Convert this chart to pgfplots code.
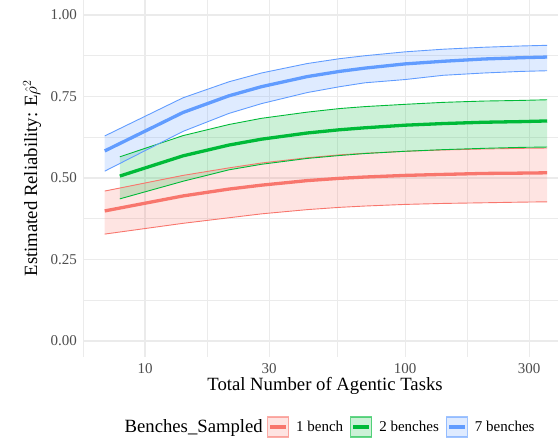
\documentclass[border=0pt]{standalone}
\usepackage{fontspec}
\setmainfont{Liberation Serif}
\usepackage{pgfplots}
\usepackage{pgfplotstable}
\pgfplotsset{compat=1.18}
\usepgfplotslibrary{fillbetween}
\definecolor{cR}{HTML}{F8766D}
\definecolor{cG}{HTML}{00BA38}
\definecolor{cB}{HTML}{619CFF}
\definecolor{gridc}{HTML}{EBEBEB}
\definecolor{tickc}{HTML}{4D4D4D}
\pgfplotstableread{
x lo mid hi
7 0.328 0.399 0.460
14 0.361 0.445 0.508
21 0.378 0.466 0.531
28 0.390 0.478 0.546
42 0.403 0.492 0.562
56 0.410 0.499 0.571
70 0.414 0.503 0.576
100 0.419 0.508 0.582
140 0.422 0.511 0.586
200 0.424 0.514 0.589
280 0.426 0.515 0.591
352 0.427 0.516 0.592
}\redT
\pgfplotstableread{
x lo mid hi
8 0.436 0.506 0.565
14 0.490 0.568 0.630
21 0.525 0.601 0.664
28 0.542 0.619 0.683
42 0.560 0.638 0.702
56 0.569 0.648 0.713
70 0.575 0.654 0.719
100 0.582 0.662 0.726
140 0.587 0.667 0.732
200 0.591 0.671 0.736
280 0.594 0.673 0.738
352 0.595 0.675 0.740
}\greenT
\pgfplotstableread{
x lo mid hi
7 0.521 0.583 0.629
14 0.643 0.701 0.746
21 0.698 0.752 0.795
28 0.728 0.780 0.822
42 0.762 0.811 0.851
56 0.780 0.827 0.866
70 0.792 0.837 0.875
100 0.802 0.850 0.887
140 0.815 0.858 0.895
200 0.822 0.865 0.901
280 0.827 0.869 0.905
352 0.829 0.871 0.907
}\blueT
\newcommand{\keyimg}[1]{\addlegendimage{legend image code/.code={
  \draw[draw=#1, draw opacity=0.6, fill=#1, fill opacity=0.2, line width=1.1bp] (0bp,-10bp) rectangle (21bp,10bp);
  \draw[#1, line width=3.3bp] (2.5bp,0bp) -- (18.5bp,0bp);}}}
\begin{document}
\begin{tikzpicture}
\begin{axis}[
  name=main,
  at={(83bp,86bp)}, anchor=south west,
  scale only axis, width=475bp, height=357bp,
  clip mode=individual,
  xmode=log, xmin=5.775, xmax=387.3, ymin=-0.049, ymax=1.046,
  xtick={10,30,100,300}, xticklabels={10,30,100,300},
  minor xtick={5.7735,17.32,54.77,173.2},
  ytick={0,0.25,0.5,0.75,1}, yticklabels={0.00,0.25,0.50,0.75,1.00},
  minor ytick={0.125,0.375,0.625,0.875},
  grid=both,
  major grid style={draw=gridc, line width=1.1bp},
  minor grid style={draw=gridc, line width=0.6bp},
  axis line style={draw=none},
  major tick length=0pt, minor tick length=0pt,
  tick style={draw=none},
  ticklabel style={font=\fontsize{15bp}{18bp}\selectfont, text=tickc, inner sep=0pt},
  xticklabel style={anchor=north, yshift=-6bp},
  yticklabel style={anchor=east, xshift=-6bp},
  xlabel={Total Number of Agentic Tasks},
  ylabel={Estimated Reliability: E$\hat{\rho}^{2}$},
  label style={font=\fontsize{18.7bp}{22bp}\selectfont, inner sep=0pt},
  xlabel style={at={(axis description cs:0.5095,-0.0938)}, anchor=base},
  ylabel style={at={(axis description cs:-0.0968,0.501)}, anchor=base, rotate=0},
  legend style={at={(axis description cs:0.3874,-0.1961)}, anchor=west,
    draw=none, fill=none, inner sep=0pt, outer sep=0pt,
    nodes={inner sep=0pt, font=\fontsize{15bp}{18bp}\selectfont},
    column sep=7bp},
  legend columns=-1,
  legend cell align=left,
]
% ribbons
\addplot[draw=none, forget plot, name path=rU] table[x=x,y=hi]{\redT};
\addplot[draw=none, forget plot, name path=rL] table[x=x,y=lo]{\redT};
\addplot[fill=cR, fill opacity=0.2, draw=none, forget plot] fill between[of=rU and rL];
\addplot[cR, line width=0.9bp, forget plot] table[x=x,y=hi]{\redT};
\addplot[cR, line width=0.9bp, forget plot] table[x=x,y=lo]{\redT};
\addplot[draw=none, forget plot, name path=gU] table[x=x,y=hi]{\greenT};
\addplot[draw=none, forget plot, name path=gL] table[x=x,y=lo]{\greenT};
\addplot[fill=cG, fill opacity=0.2, draw=none, forget plot] fill between[of=gU and gL];
\addplot[cG, line width=0.9bp, forget plot] table[x=x,y=hi]{\greenT};
\addplot[cG, line width=0.9bp, forget plot] table[x=x,y=lo]{\greenT};
\addplot[draw=none, forget plot, name path=bU] table[x=x,y=hi]{\blueT};
\addplot[draw=none, forget plot, name path=bL] table[x=x,y=lo]{\blueT};
\addplot[fill=cB, fill opacity=0.2, draw=none, forget plot] fill between[of=bU and bL];
\addplot[cB, line width=0.9bp, forget plot] table[x=x,y=hi]{\blueT};
\addplot[cB, line width=0.9bp, forget plot] table[x=x,y=lo]{\blueT};
% means
\addplot[cR, line width=3.3bp, forget plot] table[x=x,y=mid]{\redT};
\addplot[cG, line width=3.3bp, forget plot] table[x=x,y=mid]{\greenT};
\addplot[cB, line width=3.3bp, forget plot] table[x=x,y=mid]{\blueT};
% legend
\keyimg{cR}\addlegendentry{1 bench}
\keyimg{cG}\addlegendentry{2 benches}
\keyimg{cB}\addlegendentry{7 benches}
\end{axis}
\node[anchor=base east, inner sep=0pt, font=\fontsize{18.7bp}{22bp}\selectfont] at (263bp,11bp) {Benches\_Sampled};
\pgfresetboundingbox
\useasboundingbox (0,0) rectangle (558bp,443bp);
\end{tikzpicture}
\end{document}
